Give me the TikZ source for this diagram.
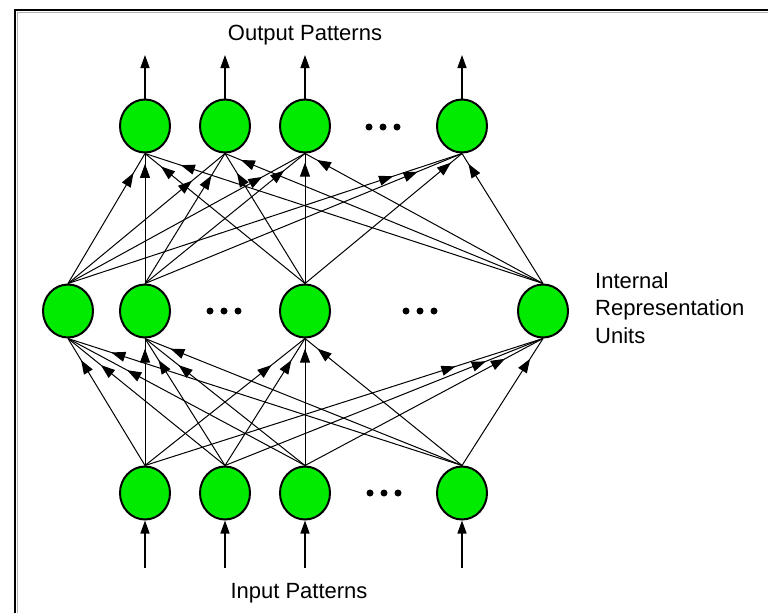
\documentclass[tikz,border=0pt]{standalone}
\usepackage{fontspec}
\setmainfont{Liberation Sans}
\usetikzlibrary{arrows.meta,decorations.markings,shapes.geometric}
\definecolor{nodegreen}{RGB}{0,235,0}
\begin{document}
\begin{tikzpicture}[x=1pt,y=-1pt,
  neuron/.style={ellipse, draw=black, line width=2pt, fill=nodegreen, minimum width=50pt, minimum height=53pt, inner sep=0pt},
  wire/.style={line width=1pt, postaction={decorate}, decoration={markings, mark=at position #1 with {\arrow{Triangle[length=14pt,width=10pt]}}}},
  io/.style={line width=1.4pt, -{Triangle[length=13pt,width=9pt]}},
  lbl/.style={font=\fontsize{22}{26}\selectfont, inner sep=0pt, anchor=base},
  side/.style={font=\fontsize{22}{26}\selectfont, inner sep=0pt, anchor=base west}
]
\useasboundingbox (0,0) rectangle (768,613);
% frame
\draw[black!30, line width=1pt] (17.5,613) -- (17.5,12.5) -- (768,12.5);
\draw[line width=2pt] (15,613) -- (15,10) -- (768,10);

% nodes
\node[neuron] (t1) at (145,126) {};
\node[neuron] (t2) at (225,126) {};
\node[neuron] (t3) at (305,126) {};
\node[neuron] (t4) at (462,126) {};
\node[neuron] (m1) at (68,311) {};
\node[neuron] (m2) at (145,311) {};
\node[neuron] (m3) at (305,311) {};
\node[neuron] (m4) at (543,311) {};
\node[neuron] (b1) at (145,493) {};
\node[neuron] (b2) at (225,493) {};
\node[neuron] (b3) at (305,493) {};
\node[neuron] (b4) at (462,493) {};

% ellipsis dots
\foreach \cx/\cy in {383/127, 224/311, 420/311, 384/493}
  \foreach \dx in {-14,0,14}
    \fill (\cx+\dx,\cy) circle (3.5);

% output and input arrows
\coordinate (o1) at (145,55);
\coordinate (o2) at (225,55);
\coordinate (o3) at (305,55);
\coordinate (o4) at (462,55);
\coordinate (i1) at (145,568);
\coordinate (i2) at (225,568);
\coordinate (i3) at (305,568);
\coordinate (i4) at (462,568);
\foreach \k in {1,2,3,4} {
  \draw[io] (t\k.north) -- (o\k);
  \draw[io] (i\k) -- (b\k.south);
}

% hidden -> output
\foreach \s/\t/\p in {m1/t1/0.85, m2/t1/0.92, m3/t1/0.90, m4/t1/0.91,
                      m1/t2/0.79, m2/t2/0.83, m3/t2/0.85, m4/t2/0.95,
                      m1/t3/0.82, m2/t3/0.87, m3/t3/0.93, m4/t3/0.95,
                      m1/t4/0.825, m2/t4/0.86, m3/t4/0.93, m4/t4/0.92}
  \draw[wire=\p] (\s.north) -- (\t.south);

% input -> hidden
\foreach \s/\t/\p in {b1/m1/0.83, b2/m1/0.79, b3/m1/0.75, b4/m1/0.89,
                      b1/m2/0.92, b2/m2/0.83, b3/m2/0.79, b4/m2/0.92,
                      b1/m3/0.79, b2/m3/0.83, b3/m3/0.92, b4/m3/0.92,
                      b1/m4/0.78, b2/m4/0.82, b3/m4/0.84, b4/m4/0.84}
  \draw[wire=\p] (\s.north) -- (\t.south);

% labels
\node[lbl] (out) at (305,40) {Output Patterns};
\node[lbl] (in) at (299,598) {Input Patterns};
\node[side] (l1) at (595,288) {Internal};
\node[side] (l2) at (595,315) {Representation};
\node[side] (l3) at (595,343) {Units};
\end{tikzpicture}
\end{document}
